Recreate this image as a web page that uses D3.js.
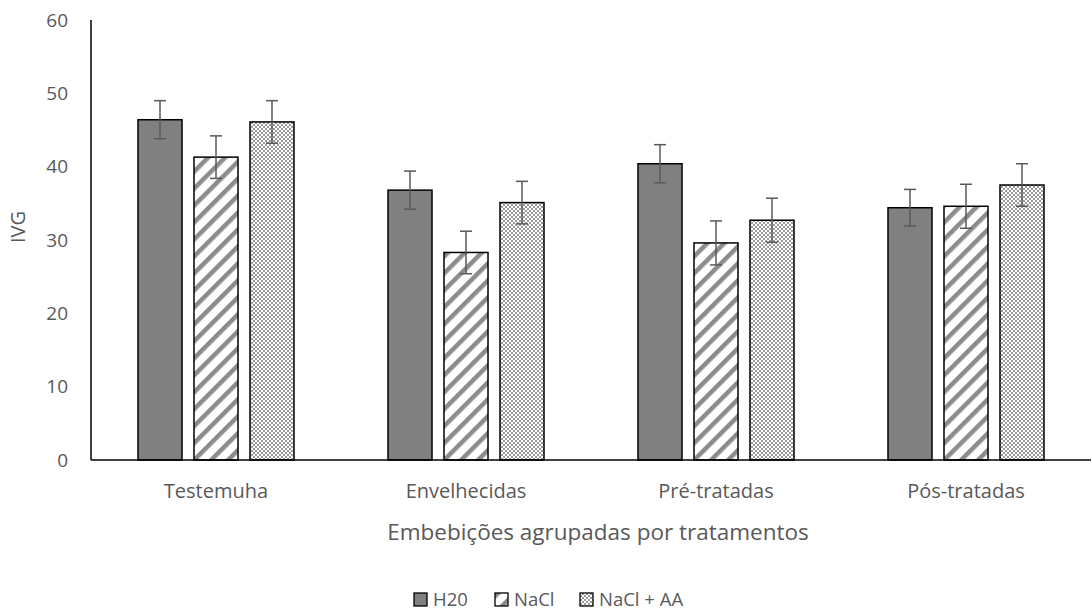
<!DOCTYPE html>
<html>
<head>
<meta charset="utf-8">
<script src="https://cdn.jsdelivr.net/npm/d3@7"></script>
<style>
  body { margin: 0; background: #fff; overflow: hidden; }
  text { font-family: "Open Sans", "Noto Sans", sans-serif; fill: #595959; }
</style>
</head>
<body>
<div id="chart"></div>
<script>
// data
var categories = ["Testemuha", "Envelhecidas", "Pré-tratadas", "Pós-tratadas"];
var seriesNames = ["H20", "NaCl", "NaCl + AA"];
var valuesH20 = [46.4, 36.8, 40.4, 34.4];
var valuesNaCl = [41.3, 28.3, 29.6, 34.6];
var valuesNaClAA = [46.1, 35.1, 32.7, 37.5];
var errH20 = [2.6, 2.6, 2.6, 2.5];
var errNaCl = [2.9, 2.9, 3.0, 3.0];
var errNaClAA = [2.9, 2.9, 3.0, 2.9];
var yTicks = [0, 10, 20, 30, 40, 50, 60];

var width = 1092, height = 612;
var margin = { top: 20, right: 1, bottom: 152, left: 91 };

var svg = d3.select("#chart").append("svg")
  .attr("width", width)
  .attr("height", height)
  .style("display", "block");

// patterns
var defs = svg.append("defs");

var stripes = defs.append("pattern")
  .attr("id", "stripes")
  .attr("patternUnits", "userSpaceOnUse")
  .attr("width", 12).attr("height", 12)
  .attr("patternTransform", "rotate(45)");
stripes.append("rect").attr("width", 12).attr("height", 12).attr("fill", "#fff");
stripes.append("rect").attr("x", 0).attr("width", 4.5).attr("height", 12).attr("fill", "#8c8c8c");

var dots = defs.append("pattern")
  .attr("id", "dots")
  .attr("patternUnits", "userSpaceOnUse")
  .attr("width", 4).attr("height", 4);
dots.append("rect").attr("width", 4).attr("height", 4).attr("fill", "#9a9a9a");
dots.append("rect").attr("x", 0).attr("y", 0).attr("width", 2).attr("height", 2).attr("fill", "#fff");
dots.append("rect").attr("x", 2).attr("y", 2).attr("width", 2).attr("height", 2).attr("fill", "#fff");

var fills = ["#808080", "url(#stripes)", "url(#dots)"];

var data = categories.map(function(c, i) {
  return {
    category: c,
    bars: [
      { name: seriesNames[0], value: valuesH20[i], err: errH20[i], fill: fills[0] },
      { name: seriesNames[1], value: valuesNaCl[i], err: errNaCl[i], fill: fills[1] },
      { name: seriesNames[2], value: valuesNaClAA[i], err: errNaClAA[i], fill: fills[2] }
    ]
  };
});

var x0 = d3.scaleBand()
  .domain(categories)
  .range([margin.left, width - margin.right]);

var x1 = d3.scaleBand()
  .domain(seriesNames)
  .range([47, 203])
  .paddingInner(0.214);

var y = d3.scaleLinear()
  .domain([0, 60])
  .range([height - margin.bottom, margin.top]);

// y tick labels
svg.append("g")
  .selectAll("text")
  .data(yTicks)
  .enter()
  .append("text")
  .attr("x", 68)
  .attr("y", function(d) { return y(d); })
  .attr("dy", "0.35em")
  .attr("text-anchor", "end")
  .style("font-size", "19px")
  .text(function(d) { return d; });

// bars
var groups = svg.selectAll(".group")
  .data(data)
  .enter()
  .append("g")
  .attr("class", "group")
  .attr("transform", function(d) { return "translate(" + x0(d.category) + ",0)"; });

groups.selectAll("rect")
  .data(function(d) { return d.bars; })
  .enter()
  .append("rect")
  .attr("x", function(d) { return x1(d.name); })
  .attr("y", function(d) { return y(d.value); })
  .attr("width", x1.bandwidth())
  .attr("height", function(d) { return y(0) - y(d.value); })
  .attr("fill", function(d) { return d.fill; })
  .attr("stroke", "#000")
  .attr("stroke-width", 1.5);

// error bars
var eb = groups.selectAll(".err")
  .data(function(d) { return d.bars; })
  .enter()
  .append("g")
  .attr("class", "err")
  .attr("stroke", "#595959")
  .attr("stroke-width", 1.5);

eb.append("line")
  .attr("x1", function(d) { return x1(d.name) + x1.bandwidth() / 2; })
  .attr("x2", function(d) { return x1(d.name) + x1.bandwidth() / 2; })
  .attr("y1", function(d) { return y(d.value - d.err); })
  .attr("y2", function(d) { return y(d.value + d.err); });

[1, -1].forEach(function(s) {
  eb.append("line")
    .attr("x1", function(d) { return x1(d.name) + x1.bandwidth() / 2 - 6; })
    .attr("x2", function(d) { return x1(d.name) + x1.bandwidth() / 2 + 6; })
    .attr("y1", function(d) { return y(d.value + s * d.err); })
    .attr("y2", function(d) { return y(d.value + s * d.err); });
});

// axes lines
svg.append("line")
  .attr("x1", margin.left).attr("x2", margin.left)
  .attr("y1", y(60)).attr("y2", y(0))
  .attr("stroke", "#000").attr("stroke-width", 1.5);
svg.append("line")
  .attr("x1", margin.left).attr("x2", width - margin.right)
  .attr("y1", y(0)).attr("y2", y(0))
  .attr("stroke", "#000").attr("stroke-width", 1.5);

// category labels
svg.append("g")
  .selectAll("text")
  .data(categories)
  .enter()
  .append("text")
  .attr("x", function(d) { return x0(d) + x0.bandwidth() / 2; })
  .attr("y", 498)
  .attr("text-anchor", "middle")
  .style("font-size", "20px")
  .text(function(d) { return d; });

// axis titles
svg.append("text")
  .attr("x", 598)
  .attr("y", 540)
  .attr("text-anchor", "middle")
  .style("font-size", "22.5px")
  .text("Embebições agrupadas por tratamentos");

svg.append("text")
  .attr("transform", "translate(25,227) rotate(-90)")
  .attr("text-anchor", "middle")
  .style("font-size", "20px")
  .text("IVG");

// legend
var legendX = [414, 495, 580];
var legend = svg.selectAll(".legend")
  .data(seriesNames)
  .enter()
  .append("g")
  .attr("class", "legend")
  .attr("transform", function(d, i) { return "translate(" + legendX[i] + ",593)"; });

legend.append("rect")
  .attr("width", 13).attr("height", 13)
  .attr("fill", function(d, i) { return fills[i]; })
  .attr("stroke", "#000")
  .attr("stroke-width", 1.3);

legend.append("text")
  .attr("x", 19)
  .attr("y", 13)
  .style("font-size", "18.5px")
  .text(function(d) { return d; });
</script>
</body>
</html>
